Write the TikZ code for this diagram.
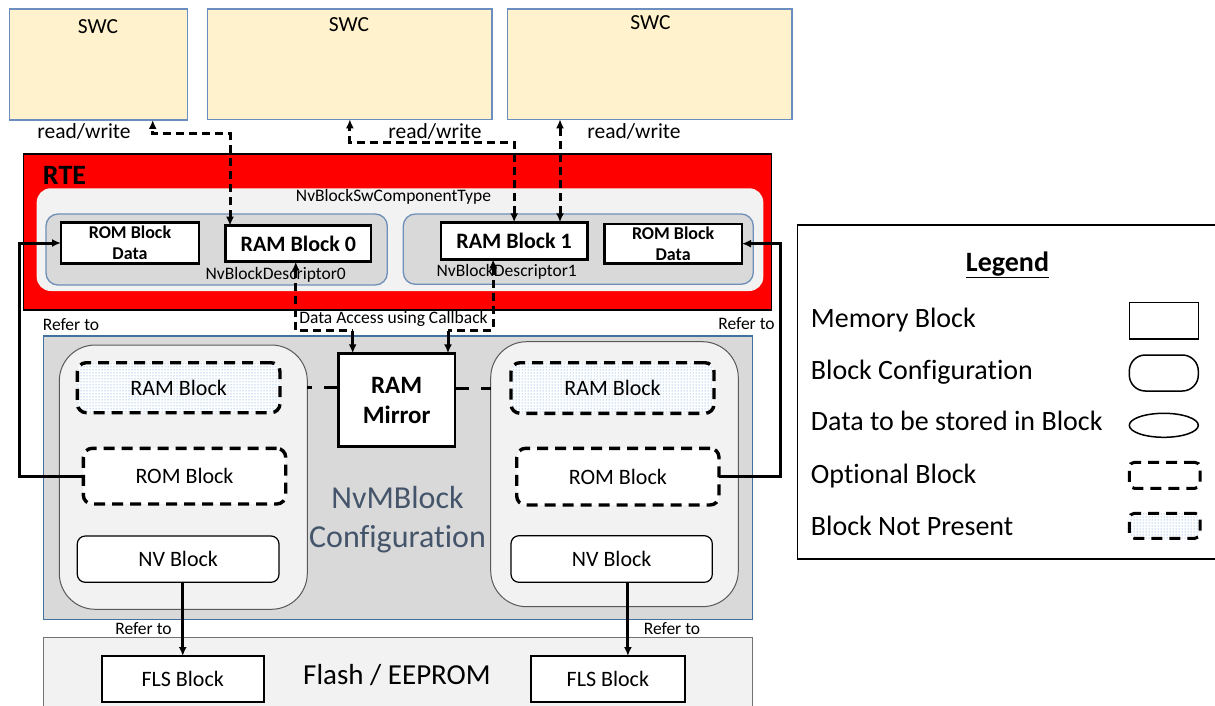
\documentclass[tikz,border=0pt]{standalone}
\usepackage{fontspec}
\setmainfont{Carlito}[Ligatures=NoCommon]
\usetikzlibrary{arrows.meta,patterns,shapes.geometric}
\definecolor{swcfill}{HTML}{FFF2CC}
\definecolor{swcdraw}{HTML}{6C8EBF}
\definecolor{lgray}{HTML}{F2F2F2}
\definecolor{mgray}{HTML}{D9D9D9}
\definecolor{descdraw}{HTML}{6D8FB8}
\definecolor{cfgdraw}{HTML}{41719C}
\definecolor{nvmtext}{HTML}{44546A}
\definecolor{dotblue}{HTML}{4F8FD8}
\newcommand\bx[7]{\node[inner sep=0pt,outer sep=0pt,minimum width={#4pt-#2pt},minimum height={#5pt-#3pt},#6] (#1) at ({(#2+#4)/2},{(#3+#5)/2}) {#7};}
\tikzset{
  swc/.style={fill=swcfill,draw=swcdraw,line width=1.2pt},
  rte/.style={fill=red,draw=black,line width=1.2pt},
  swct/.style={fill=lgray,rounded corners=14pt},
  desc/.style={fill=mgray,draw=descdraw,line width=1.3pt,rounded corners=12pt},
  mem/.style={fill=white,draw=black,line width=2.8pt,align=center,font=\bfseries\fontsize{22}{26}\selectfont},
  memsm/.style={mem,font=\bfseries\fontsize{18}{21}\selectfont},
  nvm/.style={fill=mgray,draw=cfgdraw,line width=1.3pt},
  cfg/.style={fill=lgray,draw=black!65,line width=1pt,rounded corners=36pt},
  opt/.style={fill=white,draw=black,line width=3.4pt,dash pattern=on 11pt off 7pt,rounded corners=9pt,font=\fontsize{22}{26}\selectfont},
  absent/.style={draw=black,line width=3.4pt,dash pattern=on 11pt off 7pt,rounded corners=9pt,preaction={fill=white},pattern=dots,pattern color=dotblue,font=\fontsize{22}{26}\selectfont},
  nv/.style={fill=white,draw=black,line width=1.2pt,rounded corners=8pt,font=\fontsize{22}{26}\selectfont},
  flash/.style={fill=lgray,draw=black!55,line width=1pt},
  fls/.style={fill=white,draw=black,line width=1.6pt,font=\fontsize{22}{26}\selectfont},
  dconn/.style={line width=3pt,dash pattern=on 8pt off 5pt},
  sconn/.style={line width=3pt},
  dlink/.style={line width=3pt,dash pattern=on 14pt off 12pt},
  tip/.tip={Latex[length=9pt,width=8pt]},
  lab/.style={inner sep=0pt,font=\fontsize{17.5}{21}\selectfont},
  labm/.style={inner sep=0pt,font=\fontsize{21.5}{25}\selectfont},
  legtext/.style={inner sep=0pt,anchor=base west,font=\fontsize{28}{32}\selectfont},
}
\begin{document}
\begin{tikzpicture}[x=1pt,y=-1pt]
\useasboundingbox (0,0) rectangle (1215,706);
% SWCs
\bx{swc1}{9.2}{9}{187.7}{120}{swc}{}
\bx{swc2}{207.7}{9}{492}{119.3}{swc}{}
\bx{swc3}{507.7}{9}{792}{119.3}{swc}{}
\node[labm] (swct1) at (98,26.5) {SWC};
\node[labm] (swct2) at (349,24.5) {SWC};
\node[labm] (swct3) at (650.5,23) {SWC};
\node[labm] (rw1) at (84,131.7) {read/write};
\node[labm] (rw2) at (435,131.7) {read/write};
\node[labm] (rw3) at (634,131.7) {read/write};
% RTE
\bx{rte}{23.3}{154}{771.7}{310}{rte}{}
\node[inner sep=0pt,font=\bfseries\fontsize{28}{32}\selectfont] (rtet) at (64.5,175) {RTE};
\bx{swct}{36.7}{188.3}{763.3}{291}{swct}{}
\node[lab] (swctt) at (393.5,197) {NvBlockSwComponentType};
\bx{desc0}{46}{214}{387.3}{285}{desc}{}
\bx{desc1}{403.3}{214}{753.3}{284.3}{desc}{}
\node[lab] (desc0t) at (275.7,275) {NvBlockDescriptor0};
\node[lab] (desc1t) at (506.7,271.7) {NvBlockDescriptor1};
\bx{romDL}{61}{222.3}{199}{263.7}{memsm}{ROM Block\\Data}
\bx{ram0}{225.7}{225.7}{371}{261.7}{mem}{RAM Block 0}
\bx{ram1}{441}{222.3}{587.3}{259.3}{mem}{RAM Block 1}
\bx{romDR}{604.3}{224}{742}{263.3}{memsm}{ROM Block\\Data}
% labels between
\node[lab] (refL) at (71,325) {Refer to};
\node[lab] (refR) at (746.5,324) {Refer to};
\node[lab] (dacc) at (393.5,319.3) {Data Access using Callback};
% NvM configuration
\bx{nvmcfg}{43.3}{336}{752.7}{619.5}{nvm}{}
\node[inner sep=0pt,align=center,text=nvmtext,font=\fontsize{32}{39}\selectfont] (nvmt) at (397.5,519.5) {NvMBlock\\Configuration};
\bx{cfgL}{59.3}{345}{307.3}{609.3}{cfg}{}
\bx{cfgR}{490.7}{341.7}{738.3}{606.7}{cfg}{}
\bx{mirror}{338.3}{353.3}{455}{446.7}{mem,font=\bfseries\fontsize{25}{30}\selectfont}{RAM\\Mirror}
\bx{ramL}{77.3}{362.7}{280}{412.7}{absent}{RAM Block}
\bx{romL}{83.3}{448.3}{285.7}{504}{opt}{ROM Block}
\bx{nvL}{77.3}{536}{279}{582.3}{nv}{NV Block}
\bx{ramR}{511}{362.7}{714}{413.3}{absent}{RAM Block}
\bx{romR}{516.7}{448.3}{719}{505}{opt}{ROM Block}
\bx{nvR}{511}{535.7}{712.3}{582.3}{nv}{NV Block}
% Flash
\bx{flash}{43.6}{637}{752.7}{712}{flash}{}
\node[inner sep=0pt,font=\fontsize{29}{34}\selectfont] (flasht) at (397,675) {Flash / EEPROM};
\bx{flsL}{101.8}{656}{263.7}{701.7}{fls}{FLS Block}
\bx{flsR}{531}{656}{684.8}{701.7}{fls}{FLS Block}
\node[lab] (refB1) at (143.5,629) {Refer to};
\node[lab] (refB2) at (672,629) {Refer to};
% Legend
\bx{legend}{797.3}{225}{1218}{559}{draw=black,line width=1.3pt,fill=white}{}
\node[inner sep=0pt,font=\bfseries\fontsize{28}{32}\selectfont] (legt) at (1007.5,265) {\underline{Legend}};
\node[legtext] (lg1) at (810.7,327.3) {Memory Block};
\node[legtext] (lg2) at (810.7,379.3) {Block Configuration};
\node[legtext] (lg3) at (810.7,430.7) {Data to be stored in Block};
\node[legtext] (lg4) at (810.7,483.3) {Optional Block};
\node[legtext] (lg5) at (810.7,535) {Block Not Present};
\bx{lgMem}{1129.3}{302.7}{1198.3}{339}{draw=black,line width=1.5pt,fill=white}{}
\bx{lgCfg}{1129.3}{355}{1198.3}{391}{draw=black,line width=1.5pt,fill=white,rounded corners=16pt}{}
\bx{lgEll}{1129.3}{413.3}{1198.3}{437.3}{draw=black,line width=1.5pt,fill=white,ellipse}{}
\bx{lgOpt}{1129.3}{462.3}{1200}{488.3}{opt,line width=3pt,rounded corners=5pt}{}
\bx{lgAbs}{1129.3}{513.3}{1200}{538.3}{absent,line width=3pt,rounded corners=5pt}{}
% read/write connectors
\draw[dconn,tip-tip] ([xshift=4.3pt]ram0.north west) |- ([xshift=-35pt,yshift=-14pt]swc1.south east) -- ([xshift=-35pt]swc1.south east);
\draw[dconn,tip-tip] (ram1.north) |- ([yshift=-23.4pt]swc2.south) -- (swc2.south);
\coordinate (p3) at ([xshift=-27.3pt]ram1.north east);
\draw[dconn,tip-tip] (p3) -- (p3 |- swc3.south);
% data access connectors
\coordinate (d0) at ([xshift=-2.6pt]ram0.south);
\coordinate (m0) at ([xshift=14.4pt]mirror.north west);
\coordinate (k0) at ([yshift=22.6pt]m0);
\draw[dconn,tip-] (d0) |- (k0);
\draw[sconn,-tip] (k0) -- (m0);
\coordinate (d1) at ([xshift=-21pt]ram1.south);
\coordinate (m1) at ([xshift=-7pt]mirror.north east);
\coordinate (k1) at ([yshift=22.6pt]m1);
\draw[dconn,tip-] (d1) |- (k1);
\draw[sconn,-tip] (k1) -- (m1);
% mirror links
\draw[dlink] (mirror.west |- ramL.east) -- (cfgL.east |- ramL.east);
\draw[dlink] (mirror.east |- ramR.west) -- (cfgR.west |- ramR.west);
% refer to ROM
\draw[sconn,-tip] (romL.west) -- ++(-64,0) |- (romDL.west);
\draw[sconn,-tip] (romR.east) -- ++(61,0) |- (romDR.east);
% refer to FLS
\draw[sconn,-tip] (flsL.north |- nvL.south) -- (flsL.north);
\coordinate (f2) at ([xshift=20pt]flsR.north);
\draw[sconn,-tip] (f2 |- nvR.south) -- (f2);
\end{tikzpicture}
\end{document}
